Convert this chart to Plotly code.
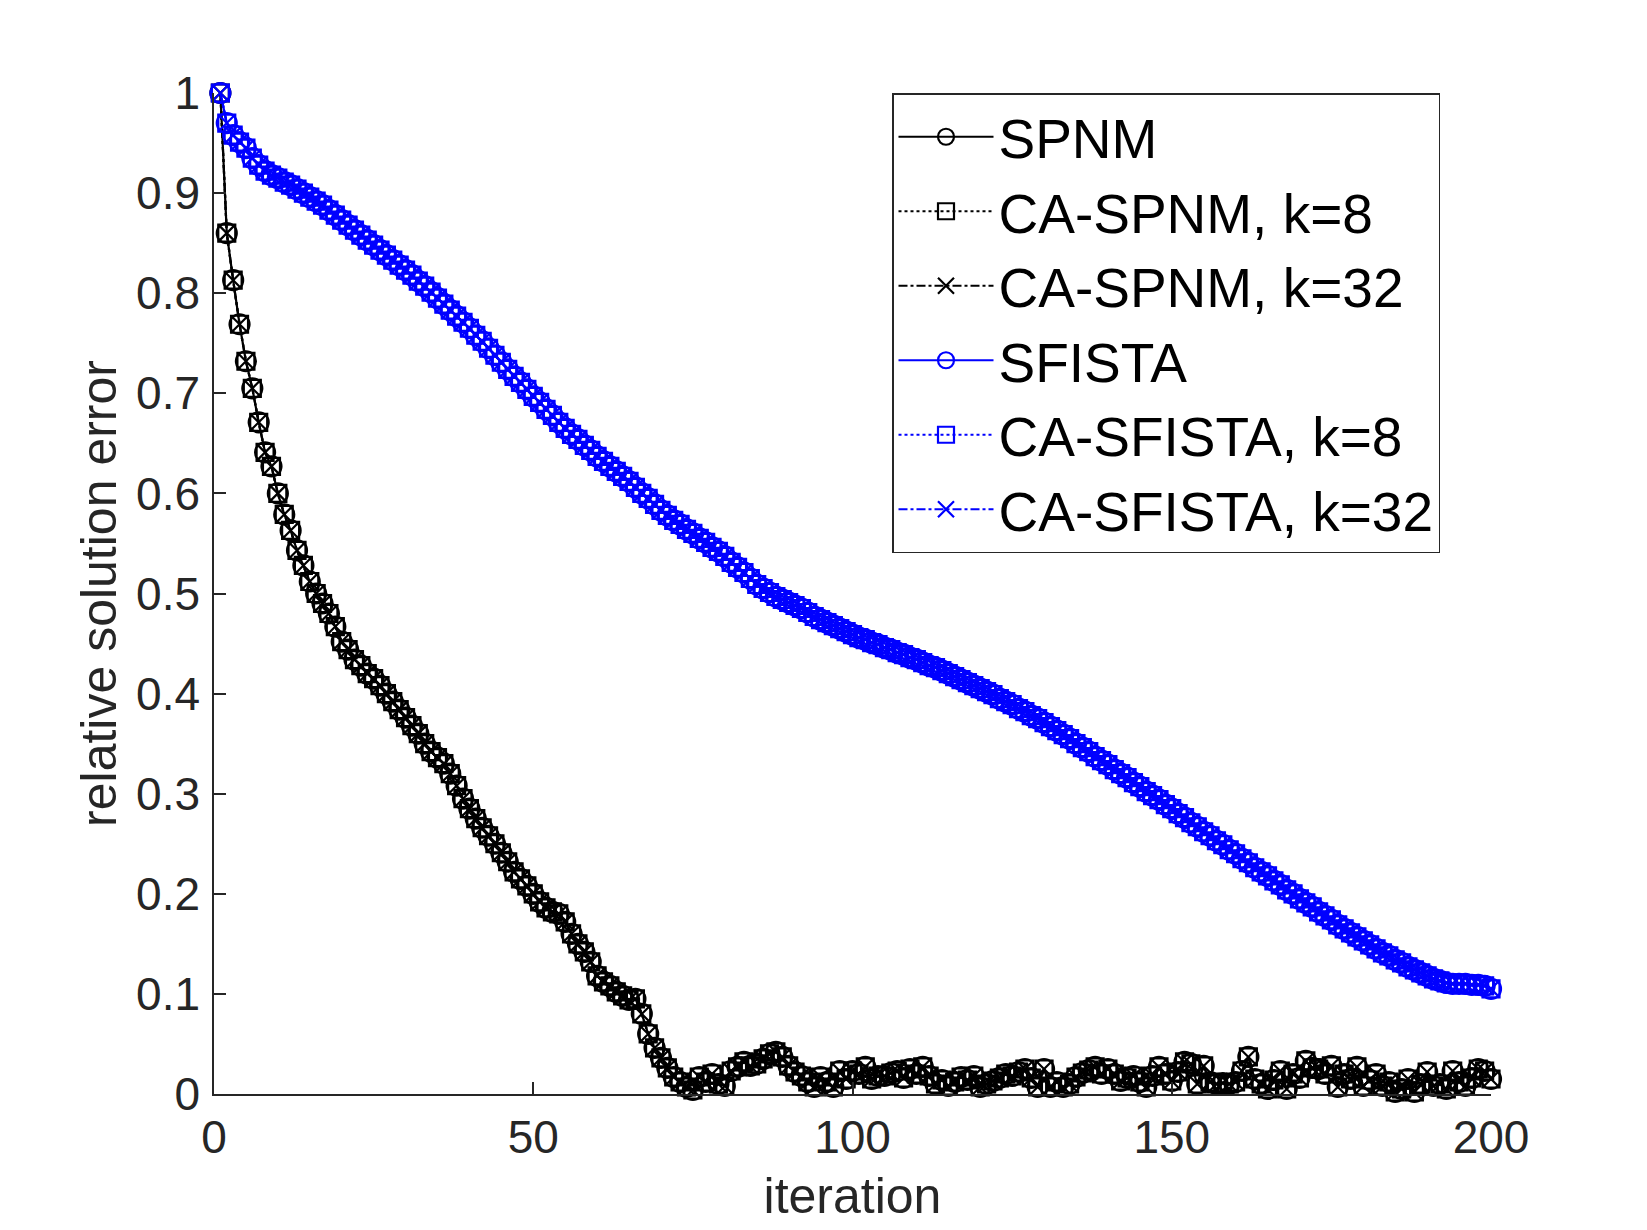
import plotly.graph_objects as go

# iteration index (x values)
iterations = list(range(1, 201))

# relative solution error, black curves (SPNM and its CA variants overlap)
spnm = [
    1.000, 0.860, 0.813, 0.769, 0.732, 0.705, 0.671, 0.641, 0.627, 0.600,
    0.579, 0.563, 0.543, 0.528, 0.512, 0.500, 0.490, 0.480, 0.467, 0.452,
    0.444, 0.434, 0.428, 0.420, 0.415, 0.408, 0.400, 0.392, 0.384, 0.376,
    0.368, 0.360, 0.350, 0.342, 0.336, 0.330, 0.320, 0.308, 0.295, 0.285,
    0.275, 0.266, 0.258, 0.250, 0.241, 0.232, 0.222, 0.215, 0.208, 0.200,
    0.192, 0.186, 0.182, 0.180, 0.172, 0.160, 0.150, 0.142, 0.132, 0.118,
    0.112, 0.108, 0.102, 0.098, 0.094, 0.095, 0.080, 0.060, 0.046, 0.036,
    0.026, 0.017, 0.012, 0.007, 0.004, 0.017, 0.012, 0.020, 0.010, 0.008,
    0.023, 0.027, 0.032, 0.028, 0.030, 0.035, 0.040, 0.042, 0.037, 0.028,
    0.022, 0.018, 0.012, 0.007, 0.017, 0.012, 0.007, 0.023, 0.015, 0.023,
    0.020, 0.027, 0.015, 0.018, 0.018, 0.021, 0.023, 0.016, 0.025, 0.020,
    0.027, 0.018, 0.010, 0.014, 0.008, 0.012, 0.017, 0.014, 0.018, 0.007,
    0.010, 0.013, 0.016, 0.020, 0.018, 0.022, 0.025, 0.016, 0.007, 0.025,
    0.007, 0.012, 0.007, 0.010, 0.017, 0.021, 0.024, 0.027, 0.020, 0.025,
    0.020, 0.013, 0.016, 0.018, 0.012, 0.007, 0.018, 0.027, 0.020, 0.013,
    0.022, 0.032, 0.030, 0.010, 0.028, 0.012, 0.010, 0.011, 0.010, 0.012,
    0.023, 0.037, 0.015, 0.010, 0.005, 0.014, 0.023, 0.005, 0.020, 0.016,
    0.033, 0.026, 0.025, 0.020, 0.028, 0.007, 0.020, 0.015, 0.027, 0.008,
    0.014, 0.020, 0.008, 0.012, 0.002, 0.005, 0.015, 0.002, 0.010, 0.022,
    0.008, 0.010, 0.005, 0.023, 0.012, 0.008, 0.016, 0.025, 0.023, 0.015,
]
ca_spnm_k8 = spnm
ca_spnm_k32 = spnm

# blue curves (SFISTA and its CA variants overlap)
sfista = [
    1.000, 0.970, 0.958, 0.951, 0.945, 0.935, 0.928, 0.922, 0.918, 0.915,
    0.911, 0.908, 0.904, 0.900, 0.896, 0.892, 0.888, 0.883, 0.878, 0.873,
    0.868, 0.863, 0.858, 0.853, 0.848, 0.843, 0.838, 0.833, 0.828, 0.823,
    0.818, 0.812, 0.807, 0.801, 0.795, 0.789, 0.783, 0.777, 0.771, 0.765,
    0.758, 0.752, 0.745, 0.738, 0.731, 0.724, 0.717, 0.711, 0.704, 0.697,
    0.691, 0.684, 0.678, 0.671, 0.665, 0.659, 0.654, 0.648, 0.643, 0.637,
    0.632, 0.627, 0.622, 0.617, 0.612, 0.606, 0.600, 0.595, 0.589, 0.583,
    0.578, 0.573, 0.569, 0.564, 0.560, 0.555, 0.551, 0.546, 0.542, 0.537,
    0.531, 0.526, 0.521, 0.515, 0.509, 0.505, 0.501, 0.497, 0.494, 0.491,
    0.488, 0.485, 0.481, 0.477, 0.474, 0.471, 0.468, 0.465, 0.462, 0.459,
    0.456, 0.454, 0.451, 0.449, 0.446, 0.444, 0.441, 0.439, 0.436, 0.434,
    0.431, 0.428, 0.426, 0.423, 0.420, 0.417, 0.414, 0.411, 0.408, 0.405,
    0.402, 0.399, 0.395, 0.392, 0.389, 0.385, 0.382, 0.378, 0.375, 0.371,
    0.367, 0.363, 0.359, 0.355, 0.350, 0.346, 0.342, 0.337, 0.333, 0.329,
    0.324, 0.320, 0.316, 0.311, 0.307, 0.302, 0.298, 0.294, 0.289, 0.285,
    0.280, 0.276, 0.271, 0.267, 0.262, 0.258, 0.253, 0.249, 0.244, 0.240,
    0.235, 0.231, 0.226, 0.222, 0.218, 0.213, 0.209, 0.204, 0.200, 0.195,
    0.191, 0.187, 0.182, 0.178, 0.174, 0.169, 0.165, 0.161, 0.157, 0.153,
    0.149, 0.145, 0.141, 0.138, 0.134, 0.131, 0.127, 0.124, 0.121, 0.118,
    0.115, 0.113, 0.111, 0.110, 0.110, 0.110, 0.109, 0.109, 0.108, 0.105,
]
ca_sfista_k8 = sfista
ca_sfista_k32 = sfista

yticks = [0, 0.1, 0.2, 0.3, 0.4, 0.5, 0.6, 0.7, 0.8, 0.9, 1]
ytick_labels = ['0', '0.1', '0.2', '0.3', '0.4', '0.5', '0.6', '0.7', '0.8', '0.9', '1']
xticks = [0, 50, 100, 150, 200]

FONT = 'Liberation Sans, Arial, Helvetica, sans-serif'
AXIS_COLOR = '#262626'

series = [
    ('SPNM', spnm, 'black', 'circle-open', 'solid', 20),
    ('CA-SPNM, k=8', ca_spnm_k8, 'black', 'square-open', 'dot', 17),
    ('CA-SPNM, k=32', ca_spnm_k32, 'black', 'x-thin-open', 'dashdot', 17),
    ('SFISTA', sfista, '#0000ff', 'circle-open', 'solid', 20),
    ('CA-SFISTA, k=8', ca_sfista_k8, '#0000ff', 'square-open', 'dot', 17),
    ('CA-SFISTA, k=32', ca_sfista_k32, '#0000ff', 'x-thin-open', 'dashdot', 17),
]

fig = go.Figure()
for name, vals, color, symbol, dash, size in series:
    fig.add_trace(go.Scatter(
        x=iterations, y=vals, name=name, mode='lines+markers', cliponaxis=False,
        line=dict(color=color, width=2.2, dash=dash),
        marker=dict(symbol=symbol, size=size, color=color,
                    line=dict(color=color, width=2.2)),
    ))

# page body adds an 8px offset, so the figure is sized to the remaining window
fig.update_layout(
    width=1639, height=1222,
    margin=dict(l=206, r=156, t=85, b=136, autoexpand=False),
    paper_bgcolor='white', plot_bgcolor='white',
    font=dict(family=FONT, color=AXIS_COLOR),
    legend=dict(
        x=(884 - 206) / 1277, y=1.0, xanchor='left', yanchor='top',
        bgcolor='white', bordercolor=AXIS_COLOR, borderwidth=1.5,
        font=dict(family=FONT, size=55, color='black'),
        itemwidth=95, tracegroupgap=0,
    ),
)

fig.update_xaxes(
    range=[0, 200], tickvals=xticks, ticks='inside', ticklen=12, tickwidth=1.5,
    tickcolor=AXIS_COLOR, showline=True, linecolor=AXIS_COLOR, linewidth=1.5,
    showgrid=False, zeroline=False, mirror=False, automargin=False,
    tickfont=dict(size=46, color=AXIS_COLOR), ticklabelstandoff=2,
    title=dict(text='iteration', font=dict(size=50, color=AXIS_COLOR), standoff=16),
)
fig.update_yaxes(
    range=[0, 1], tickvals=yticks, ticktext=ytick_labels, ticks='inside', ticklen=12,
    tickwidth=1.5, tickcolor=AXIS_COLOR, showline=True, linecolor=AXIS_COLOR,
    linewidth=1.5, showgrid=False, zeroline=False, mirror=False, automargin=False,
    tickfont=dict(size=46, color=AXIS_COLOR), ticklabelstandoff=3,
    title=dict(text='relative solution error', font=dict(size=50, color=AXIS_COLOR), standoff=4),
)

fig.write_html("out.html")
